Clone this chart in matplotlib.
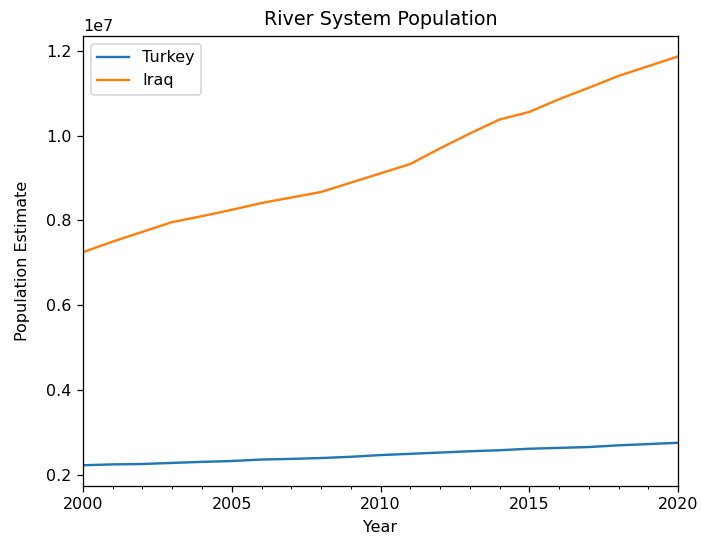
import matplotlib
matplotlib.use("Agg")
import matplotlib.pyplot as plt
from matplotlib.ticker import MultipleLocator

# Population estimates per year
years = list(range(2000, 2021))
turkey = [2.22e6, 2.24e6, 2.25e6, 2.275e6, 2.30e6, 2.32e6, 2.355e6, 2.37e6, 2.39e6,
          2.42e6, 2.46e6, 2.49e6, 2.52e6, 2.55e6, 2.575e6, 2.61e6, 2.63e6, 2.65e6,
          2.69e6, 2.72e6, 2.75e6]
iraq = [7.25e6, 7.50e6, 7.73e6, 7.96e6, 8.10e6, 8.25e6, 8.41e6, 8.54e6, 8.67e6,
        8.89e6, 9.11e6, 9.33e6, 9.70e6, 10.05e6, 10.38e6, 10.56e6, 10.86e6, 11.13e6,
        11.41e6, 11.64e6, 11.87e6]

fig = plt.figure(figsize=(701 / 115, 539 / 115), dpi=115)
ax = fig.add_axes([0.1184, 0.0989, 0.8488, 0.8343])

ax.plot(years, turkey, label="Turkey")
ax.plot(years, iraq, label="Iraq")

ax.set_xlim(2000, 2020)
ax.xaxis.set_major_locator(MultipleLocator(5))
ax.xaxis.set_minor_locator(MultipleLocator(1))
ax.set_title("River System Population", pad=7)
ax.set_xlabel("Year", labelpad=5)
ax.set_ylabel("Population Estimate", labelpad=10)
ax.legend(loc="upper left")

fig.savefig("out.png", dpi=115)
